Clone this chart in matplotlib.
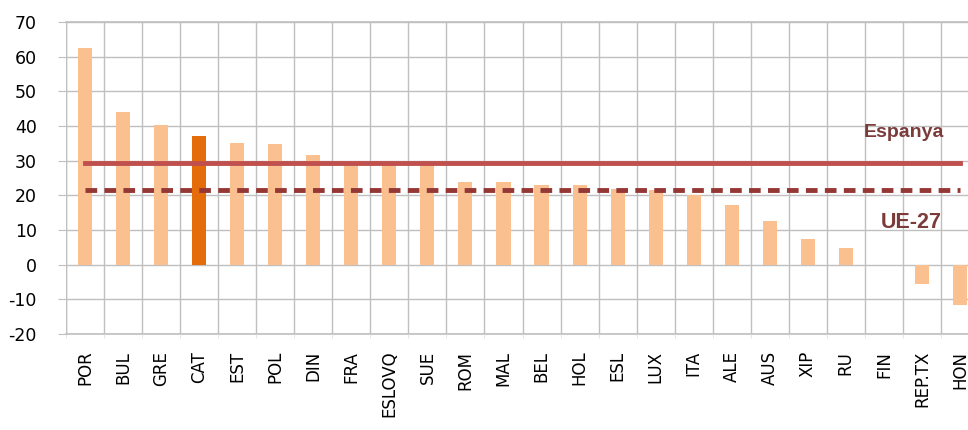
import matplotlib.pyplot as plt
import numpy as np

plt.rcParams['axes.unicode_minus'] = False

categories = ['POR', 'BUL', 'GRE', 'CAT', 'EST', 'POL', 'DIN', 'FRA', 'ESLOVQ', 'SUE',
              'ROM', 'MAL', 'BEL', 'HOL', 'ESL', 'LUX', 'ITA', 'ALE', 'AUS', 'XIP',
              'RU', 'FIN', 'REP.TX', 'HON']
values = [62.5, 44.1, 40.2, 37.1, 35.2, 34.7, 31.6, 29.9, 29.7, 29.4,
          23.9, 23.9, 23.0, 23.0, 21.8, 21.4, 20.0, 17.2, 12.7, 7.4,
          4.7, 0.0, -5.6, -11.6]
highlight = 'CAT'
espanya = 29.2
ue27 = 21.5

fig = plt.figure(figsize=(9.68, 4.30), dpi=100)
ax = fig.add_axes([66 / 968, (430 - 334) / 430, (979 - 66) / 968, (334 - 22) / 430])

x = np.arange(len(categories))
colors = ['#E46C0A' if c == highlight else '#FAC090' for c in categories]
ax.bar(x, values, width=0.37, color=colors, zorder=2)

# reference lines
ax.plot([x[0], x[-1]], [espanya, espanya], color='#C0504D', lw=3.5, zorder=3)
ax.plot([x[0], x[-1]], [ue27, ue27], color='#953735', lw=3.5, ls=(0, (2.4, 1.5)), zorder=3)
ax.text(21.53, 38.2, 'Espanya', color='#7B3B3B', fontsize=14, fontweight='bold',
        ha='center', va='center', family='Liberation Sans', style='normal')
ax.text(21.71, 12.3, 'UE-27', color='#7B3B3B', fontsize=15.5, fontweight='bold',
        ha='center', va='center', family='Liberation Sans', style='normal')

ax.set_xlim(-0.5, len(categories) - 0.5)
ax.set_ylim(-20, 70)
ax.set_yticks(range(-20, 71, 10))
ax.set_xticks(x)
ax.set_xticklabels(categories, rotation=90, fontsize=12)
ax.set_xticks(np.arange(-0.5, len(categories), 1), minor=True)
ax.tick_params(axis='x', which='major', length=0, pad=12)
ax.tick_params(axis='x', which='minor', length=3, color='#E0E0E0')
ax.tick_params(axis='y', length=6, color='#BFBFBF', labelsize=12.5, pad=15)

# grid
ax.grid(axis='y', color='#BFBFBF', lw=1, zorder=0)
ax.grid(axis='x', which='minor', color='#BFBFBF', lw=1, zorder=0)
for s in ax.spines.values():
    s.set_visible(False)
ax.axvline(-0.5, color='#BFBFBF', lw=1, zorder=0)
ax.axhline(-20, color='#BFBFBF', lw=1.2, zorder=0, clip_on=False)
ax.axhline(70, color='#BFBFBF', lw=1.2, zorder=0, clip_on=False)

fig.savefig('out.png', dpi=100)
